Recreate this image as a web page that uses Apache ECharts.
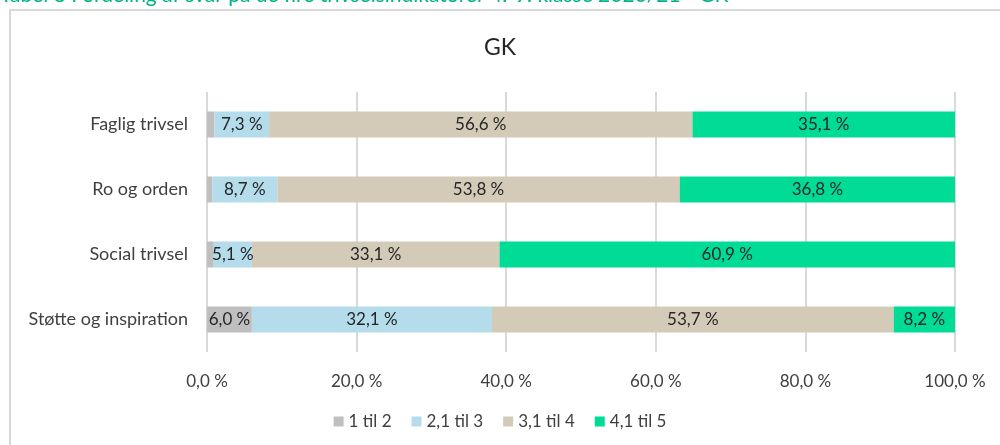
<!DOCTYPE html>
<html>
<head>
<meta charset="utf-8">
<script src="https://cdn.jsdelivr.net/npm/echarts@6/dist/echarts.min.js"></script>
<style>
  html, body { margin: 0; padding: 0; background: #fff; }
  #chart { width: 1000px; height: 445px; }
</style>
</head>
<body>
<div id="chart"></div>
<script>
  // data
  const categories = ["Faglig trivsel", "Ro og orden", "Social trivsel", "Støtte og inspiration"];
  const seriesNames = ["1 til 2", "2,1 til 3", "3,1 til 4", "4,1 til 5"];
  const s1 = [1.0, 0.7, 0.9, 6.0];
  const s2 = [7.3, 8.7, 5.1, 32.1];
  const s3 = [56.6, 53.8, 33.1, 53.7];
  const s4 = [35.1, 36.8, 60.9, 8.2];
  const xTicks = [0, 20, 40, 60, 80, 100];

  const colors = ["#bfbfbf", "#b4dcea", "#d3cbb8", "#00dc96"];
  const FONT = "Lato";
  const fmtPct = (v) => v.toFixed(1).replace(".", ",") + " %";

  const chart = echarts.init(document.getElementById("chart"), null, { renderer: "canvas" });

  const mkSeries = (name, data, i) => ({
    name, type: "bar", stack: "total", data, barWidth: "40%",
    itemStyle: { color: colors[i] },
    label: {
      show: true, position: "inside", color: "#262626", fontFamily: FONT, fontSize: 17,
      formatter: (p) => (p.value < 2 ? "" : fmtPct(p.value))
    },
    emphasis: { disabled: true }
  });

  chart.setOption({
    animation: false,
    title: {
      text: "GK", left: "center", top: 31,
      textStyle: { color: "#262626", fontFamily: FONT, fontSize: 23, fontWeight: "normal" }
    },
    graphic: [
      { type: "rect", shape: { x: 10, y: 10, width: 1010, height: 460 }, style: { fill: "none", stroke: "#d9d9d9", lineWidth: 2 } },
      { type: "text", left: 0, top: -15, style: {
          text: "Tabel 8 Fordeling af svar på de fire trivselsindikatorer 4.-9. klasse 2020/21 - GK",
          fill: "#00b386", font: "21px Lato" } }
    ],
    grid: { left: 207, right: 45, top: 92, bottom: 93 },
    legend: {
      data: seriesNames, bottom: 10, left: "center",
      itemWidth: 10, itemHeight: 10, itemGap: 20, icon: "rect",
      textStyle: { color: "#404040", fontFamily: FONT, fontSize: 17 }
    },
    xAxis: {
      type: "value", min: xTicks[0], max: xTicks[xTicks.length - 1], interval: 20,
      axisLine: { show: false }, axisTick: { show: false },
      splitLine: { show: true, lineStyle: { color: "#d9d9d9", width: 2 } },
      axisLabel: { color: "#404040", fontFamily: FONT, fontSize: 17, margin: 21, formatter: (v) => fmtPct(v) }
    },
    yAxis: {
      type: "category", data: categories, inverse: true,
      axisLine: { show: false }, axisTick: { show: false },
      axisLabel: { color: "#404040", fontFamily: FONT, fontSize: 18, margin: 19 }
    },
    series: [
      mkSeries(seriesNames[0], s1, 0),
      mkSeries(seriesNames[1], s2, 1),
      mkSeries(seriesNames[2], s3, 2),
      mkSeries(seriesNames[3], s4, 3)
    ]
  });
</script>
</body>
</html>
